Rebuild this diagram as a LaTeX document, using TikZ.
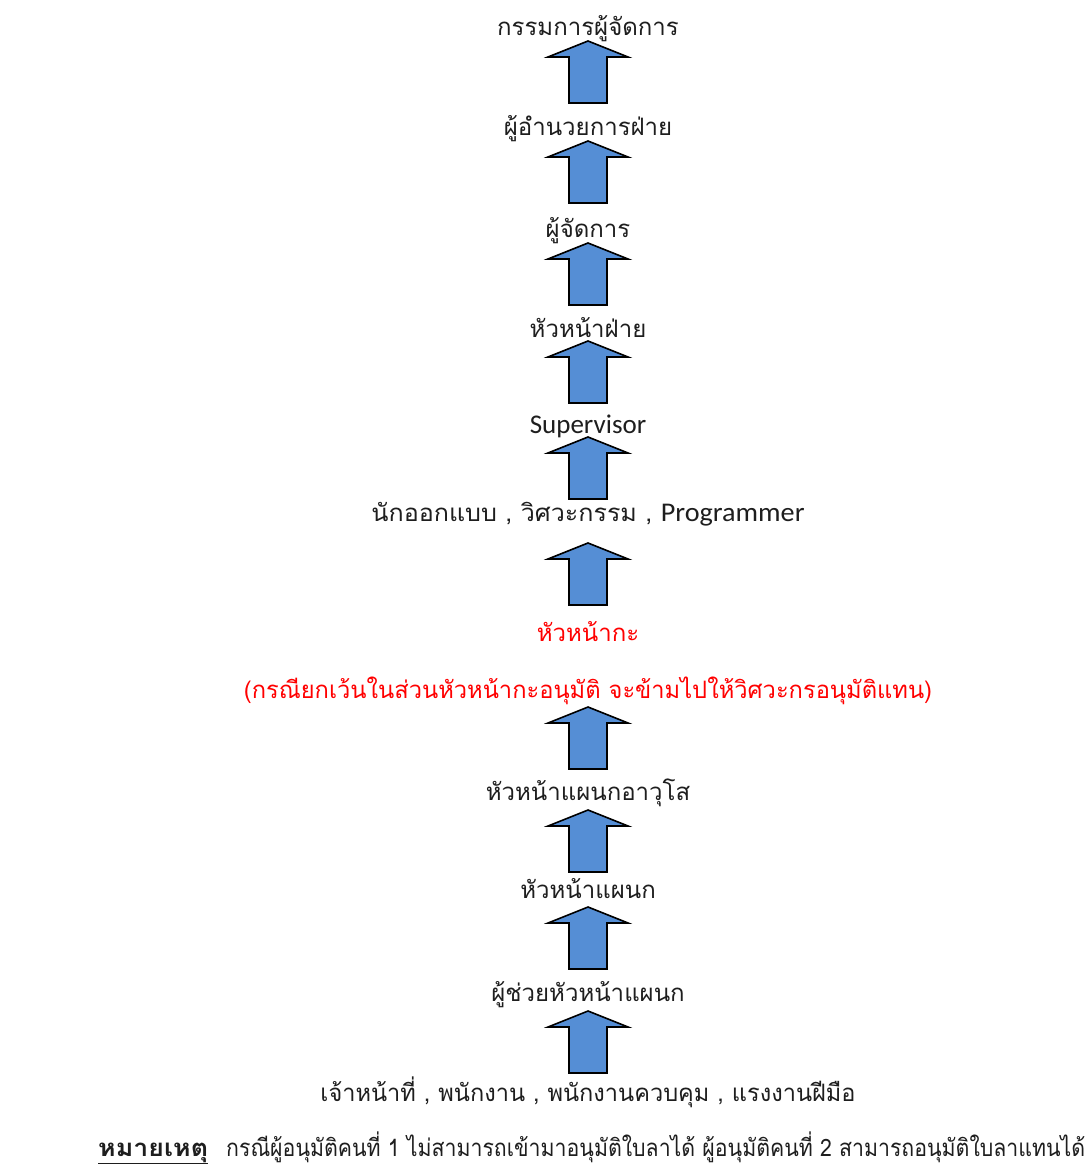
\documentclass[tikz,border=0pt]{standalone}
\usepackage{fontspec}
\usepackage{graphicx}
\newfontfamily\thaifont[Script=Thai]{Loma}
\newfontfamily\latfont{Carlito}
\definecolor{arrowblue}{RGB}{85,142,213}
\definecolor{txtgray}{RGB}{30,30,30}
\tikzset{
  lbl/.style={font=\thaifont\fontsize{24}{28}\selectfont, inner sep=0pt, anchor=base, text=txtgray},
  redlbl/.style={lbl, text=red},
  blockarrow/.style={draw=black, line width=1.6pt, fill=arrowblue, line join=miter},
}
\newcommand{\uparr}[3]{% name, x, ytip
  \coordinate (#1) at (#2,#3);
  \draw[blockarrow] (#1) -- ++(40,16) -- ++(-21,0) -- ++(0,46) -- ++(-38,0) -- ++(0,-46) -- ++(-21,0) -- cycle;
}
\begin{document}
\begin{tikzpicture}[x=1pt,y=-1pt]
\useasboundingbox[fill=white] (0,0) rectangle (1090,1170);
\node[lbl] (t1) at (588,35) {กรรมการผู้จัดการ};
\uparr{a1}{588}{41}
\node[lbl] (t2) at (588,135) {ผู้อำนวยการฝ่าย};
\uparr{a2}{588}{141}
\node[lbl] (t3) at (588,237) {ผู้จัดการ};
\uparr{a3}{588}{243}
\node[lbl] (t4) at (588,337) {หัวหน้าฝ่าย};
\uparr{a4}{588}{341}
\node[lbl, font=\latfont\fontsize{27}{30}\selectfont] (t5) at (588,433) {Supervisor};
\uparr{a5}{588}{437}
\node[lbl] (t6) at (588,521) {\resizebox{433pt}{\height}{นักออกแบบ , วิศวะกรรม , {\latfont\fontsize{27}{30}\selectfont Programmer}}};
\uparr{a6}{588}{543}
\node[redlbl] (t7) at (588,641) {หัวหน้ากะ};
\node[redlbl] (t8) at (588,698) {\resizebox{688pt}{\height}{(กรณียกเว้นในส่วนหัวหน้ากะอนุมัติ จะข้ามไปให้วิศวะกรอนุมัติแทน)}};
\uparr{a7}{588}{707}
\node[lbl] (t9) at (588,800) {หัวหน้าแผนกอาวุโส};
\uparr{a8}{588}{810}
\node[lbl] (t10) at (588,898) {หัวหน้าแผนก};
\uparr{a9}{588}{907}
\node[lbl] (t11) at (588,1001) {ผู้ช่วยหัวหน้าแผนก};
\uparr{a10}{588}{1011}
\node[lbl] (t12) at (588,1101) {\resizebox{535pt}{\height}{เจ้าหน้าที่ , พนักงาน , พนักงานควบคุม , แรงงานฝีมือ}};
\node[lbl, anchor=base west] (t13) at (98,1156) {\underline{\resizebox{110pt}{\height}{\textbf{หมายเหตุ}}}};
\node[lbl, anchor=base west] (t14) at (226,1156) {\resizebox{859pt}{\height}{กรณีผู้อนุมัติคนที่ 1 ไม่สามารถเข้ามาอนุมัติใบลาได้ ผู้อนุมัติคนที่ 2 สามารถอนุมัติใบลาแทนได้}};
\end{tikzpicture}
\end{document}
